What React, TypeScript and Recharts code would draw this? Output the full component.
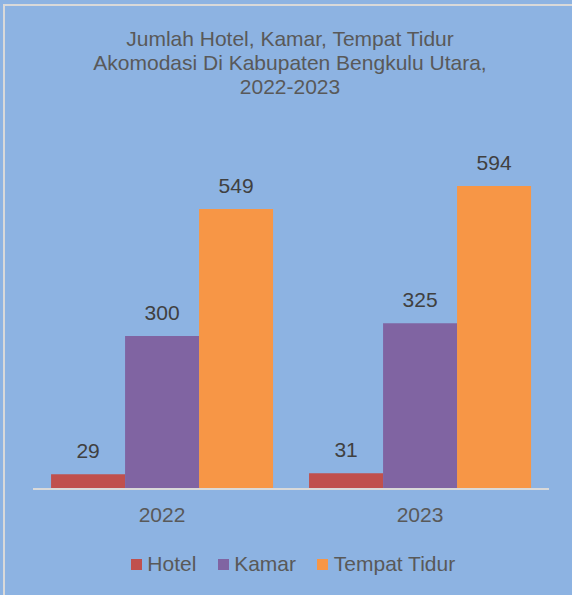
import { BarChart, Bar, XAxis, YAxis, Legend, LabelList } from 'recharts';

const years = ['2022', '2023'];
const hotel = [29, 31];
const kamar = [300, 325];
const tempatTidur = [549, 594];

const titleLines = [
    'Jumlah Hotel, Kamar, Tempat Tidur',
    'Akomodasi Di Kabupaten Bengkulu Utara,',
    '2022-2023',
];

const seriesNames = ['Hotel', 'Kamar', 'Tempat Tidur'];
const seriesColors = ['#C0504D', '#8064A2', '#F79646'];

const data = years.map((y, i) => ({
    year: y,
    Hotel: hotel[i],
    Kamar: kamar[i],
    'Tempat Tidur': tempatTidur[i],
}));

const font = '"Liberation Sans", Arial, sans-serif';

// legend drawn with zero height so it doesn't shrink the plot area
const LegendRow = () => (
    <div style={{ height: 0, position: 'relative' }}>
        <div style={{ position: 'absolute', left: 0, top: 0, display: 'flex', alignItems: 'center', whiteSpace: 'nowrap', fontFamily: font, fontSize: 21, lineHeight: '24px', color: '#595959' }}>
            {seriesNames.map((n, i) => (
                <div key={n} style={{ display: 'flex', alignItems: 'center', marginRight: 21.5 }}>
                    <span style={{ width: 11, height: 11, background: seriesColors[i], marginRight: 5.3, display: 'inline-block' }} />
                    <span>{n}</span>
                </div>
            ))}
        </div>
    </div>
);

const App = () => {
    return (
        <div style={{ position: 'fixed', left: 0, top: 0, width: 572, height: 595, background: '#8DB3E2', overflow: 'hidden', fontFamily: font }}>
            <div style={{ position: 'absolute', left: 3, top: 4, width: 620, height: 640, border: '2px solid #D9D9D9', boxSizing: 'border-box' }} />
            <div style={{ position: 'absolute', left: 0, top: 27, width: 580, textAlign: 'center', color: '#595959', fontSize: 21, lineHeight: '24px' }}>
                {titleLines.map((t) => <div key={t}>{t}</div>)}
            </div>
            <BarChart
                width={572}
                height={595}
                data={data}
                barCategoryGap="7%"
                barGap={0}
                margin={{ top: 132, right: 23, left: 33, bottom: 66 }}
                style={{ position: 'absolute', left: 0, top: 0 }}
            >
                <XAxis
                    dataKey="year"
                    axisLine={{ stroke: '#D9D9D9', strokeWidth: 2 }}
                    tickLine={false}
                    tickSize={0}
                    height={40}
                    tick={{ fill: '#595959', fontSize: 21, fontFamily: font }}
                    tickMargin={18.5}
                />
                <YAxis hide domain={[0, 700]} />
                <Legend content={<LegendRow />} wrapperStyle={{ left: 131, top: 552, width: 'auto' }} />
                {seriesNames.map((n, i) => (
                    <Bar key={n} dataKey={n} fill={seriesColors[i]} isAnimationActive={false}>
                        <LabelList dataKey={n} position="top" offset={16} fill="#404040" fontSize={21} fontFamily={font} />
                    </Bar>
                ))}
            </BarChart>
        </div>
    );
};

export default App;
